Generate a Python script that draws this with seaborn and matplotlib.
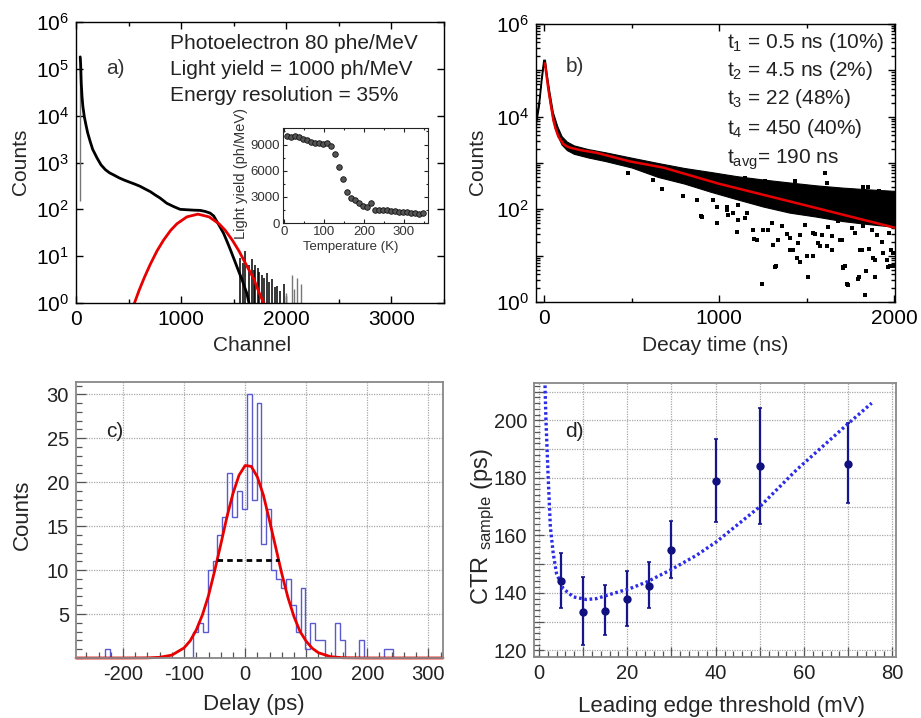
import numpy as np
import matplotlib
matplotlib.use("Agg")
import matplotlib.pyplot as plt
import matplotlib.ticker as mticker
import seaborn as sns

# ---------------- a) pulse height spectrum ----------------
spike_ch = 38
spike_lo, spike_hi = 150, 180000
spec_ch = [40, 44, 50, 57, 65, 79, 95, 111, 135, 159, 200, 238, 280, 320, 360, 410, 460,
           510, 560, 610, 660, 705, 750, 800, 863, 927, 990, 1054, 1120, 1181, 1230, 1276,
           1310, 1340, 1370, 1403, 1435, 1467, 1500, 1530, 1555, 1578, 1600, 1625, 1645]
spec_counts = [180000, 130000, 49000, 26000, 16000, 9500, 6300, 4300, 2800, 1900, 1250, 890,
               700, 600, 540, 470, 420, 380, 345, 310, 270, 240, 205, 174, 135, 115, 100, 98,
               96, 95, 90, 83, 72, 55, 42, 31, 21, 14, 9, 6, 4.3, 3.2, 2.3, 1.6, 1.0]
tail_ch = [1560, 1585, 1610, 1641, 1673, 1690, 1705, 1727, 1745, 1768, 1790, 1816, 1840,
           1864, 1890, 1911, 1940, 1975, 2000, 2054, 2075, 2100, 2140]
tail_counts = [9, 7, 12.6, 6.6, 8.5, 5, 6.6, 5.6, 4.5, 4.0, 3.5, 4.4, 2.8,
               3.2, 2.2, 2.3, 1.8, 2.5, 1.6, 4.0, 2.0, 3.4, 2.5]
fit_a_ch = [556, 600, 650, 705, 770, 832, 900, 959, 1054, 1160, 1266, 1361, 1420, 1487,
            1550, 1615, 1690, 1740, 1784]
fit_a_counts = [1.0, 1.86, 3.5, 6.6, 12.9, 21.9, 35.5, 49, 69, 79, 69, 49, 35.5, 21.9,
                12.9, 6.8, 3.3, 1.7, 1.0]

temp_k = [8, 18, 28, 38, 48, 58, 68, 78, 88, 98, 108, 118, 128, 138, 148, 158, 168, 178,
          188, 198, 208, 218, 228, 238, 248, 258, 268, 278, 288, 298, 308, 318, 328, 338, 348]
light_yield = [9960, 9900, 9960, 9880, 9650, 9500, 9300, 9230, 9230, 9070, 9150, 8800, 7920,
               6370, 5020, 3510, 2900, 2590, 2350, 1970, 1810, 2350, 1540, 1470, 1470, 1470,
               1430, 1390, 1270, 1270, 1240, 1200, 1200, 1040, 1100]

# ---------------- b) decay curve ----------------
band_t = [-46, -30, -15, -5, 5, 15, 30, 50, 75, 100, 130, 170, 250, 350, 500, 650, 800,
          950, 1100, 1250, 1400, 1550, 1700, 1850, 2003]
band_hi = [10000, 24000, 85000, 170000, 170000, 85000, 35500, 12600, 6300, 3800, 2900, 2400,
           2000, 1700, 1300, 1000, 780, 640, 520, 440, 380, 330, 295, 270, 250]
band_lo = [7100, 16600, 59000, 120000, 120000, 59000, 22400, 8300, 4000, 2500, 1900, 1580,
           1320, 1100, 800, 500, 360, 240, 165, 115, 85, 70, 56, 48, 42]
scatter_t = [894, 1201, 1243, 1309, 1323, 1252, 1147, 1043, 1452, 1500, 1505, 1534, 1564,
             1614, 1642, 1680, 1718, 1728, 1795, 1833, 1838, 1880, 1899, 1937, 1956, 1975,
             1994, 1857, 1775, 1823, 1461, 1404, 1357, 1300, 1195, 1157, 1081, 967, 872, 795,
             1614, 1823, 1909, 1747, 1595, 1671, 1918, 1966, 1699, 1994, 1404, 1576, 1804,
             1890, 1709, 1442, 1100, 986,
             1052, 1109, 1109, 1214, 1251, 1318, 1422, 1460, 1536, 1489, 1584, 1622, 1641,
             1708, 1736, 1793, 1812, 1888, 1926, 1964, 1869, 1983, 1755, 1689, 1546, 1385,
             1337, 1280, 1603, 1260, 1850, 1907, 1432, 1147, 481, 671, 871, 900, 985, 1042,
             624]
scatter_counts = [72, 23, 2.4, 17, 5.9, 36, 65, 115, 19, 10, 3.4, 31, 19,
                  16, 26, 55, 5.9, 2.5, 3.4, 1.4, 4.6, 8.9, 28, 11.5, 8.1, 5.9,
                  11.5, 14, 31, 43, 28, 24, 43, 50, 36, 83, 83, 162, 162, 190,
                  370, 310, 245, 224, 83, 98, 83, 31, 22, 5.9, 13.5, 16, 13.5,
                  3.5, 5.8, 8.9, 33, 50,
                  76, 59, 123, 22, 35, 5.6, 13, 7.4, 9.6, 46, 28, 42, 13,
                  5.4, 2.3, 3.2, 13, 8.1, 20, 5.8, 35, 13, 39, 22, 30, 30,
                  22, 35, 600, 400, 310, 240, 400, 470, 600, 280, 158, 69, 115, 98,
                  427]
fit_b_t = [5, 25, 53, 65, 82, 110, 130, 150, 206, 300, 491, 681, 1000, 1500, 2003]
fit_b_counts = [141000, 38000, 8500, 5600, 3700, 2570, 2290, 2140, 1900, 1660, 1080, 795,
                355, 120, 40]

# ---------------- c) delay histogram ----------------
hist_start = -229.3
hist_width = 8.0
hist_counts = [1] + [0] * 17 + [3, 4, 3, 10, 11, 14, 16, 21, 16, 19, 17,
                                30, 18, 29, 13, 17, 10, 9, 8, 9, 6, 3, 8, 1, 4, 2, 2, 0, 0,
                                4, 2, 0, 0, 0, 2, 0, 0, 0, 0, 1, 1]
fit_c_delay = [-277, -200, -160, -140, -120, -100, -90, -80, -70, -60, -50, -40, -30, -20,
               -10, 0, 10, 20, 30, 40, 50, 60, 70, 80, 90, 100, 110, 120, 140, 160, 200, 324]
fit_c_counts = [0, 0, 0.015, 0.08, 0.33, 1.15, 1.96, 3.2, 4.9, 7.1, 9.9, 12.9, 16.0, 18.7,
                20.8, 21.9, 21.8, 20.6, 18.5, 15.6, 12.6, 9.6, 6.9, 4.7, 3.0, 1.9, 1.1, 0.6,
                0.15, 0.03, 0, 0]
fwhm_delay = [-46, 55]
fwhm_level = [11.2, 11.2]

# ---------------- d) CTR vs threshold ----------------
thr_mv = [5, 10, 15, 20, 25, 30, 40, 50, 70]
ctr_ps = [144.2, 133.4, 133.7, 137.8, 142.3, 154.8, 178.8, 184.0, 185.0]
ctr_lo = [134.9, 122.0, 125.2, 128.4, 134.7, 145.1, 164.5, 164.0, 171.2]
ctr_hi = [154.0, 145.6, 142.6, 147.7, 150.7, 165.0, 193.5, 204.3, 199.0]
fit_d_mv = [1.36, 1.6, 2.1, 2.6, 3.25, 4.0, 5.5, 7.8, 10.8, 13, 16.8, 20.6, 24.4, 29.7,
            35.7, 40.2, 50, 58.3, 69.7, 75.3]
fit_d_ps = [214, 200.2, 180.5, 163, 153.7, 146.7, 141.5, 138.6, 137.7, 138, 139.8, 141.5,
            143.8, 147.9, 153.1, 157.8, 170, 182.8, 198.5, 206]

sns.set_style("ticks")
plt.rcParams['font.family'] = ['Liberation Sans', 'DejaVu Sans']
plt.rcParams['mathtext.fontset'] = 'custom'
plt.rcParams['mathtext.rm'] = 'Liberation Sans'
plt.rcParams['mathtext.it'] = 'Liberation Sans'
plt.rcParams['mathtext.bf'] = 'Liberation Sans:bold'
plt.rcParams['axes.unicode_minus'] = False

W, H = 921, 718


def box(l, t, r, b):
    return [l / W, 1 - b / H, (r - l) / W, (b - t) / H]


def put(x, y, s, **kw):
    fig.text(x / W, 1 - y / H, s, va='baseline', ha='left', **kw)


fig = plt.figure(figsize=(W / 100, H / 100), dpi=100)

# ---- panel a ----
ax_a = fig.add_axes(box(76, 22, 444, 303))
ax_a.set_yscale('log')
ax_a.vlines(spike_ch, spike_lo, spike_hi, color='#777777', lw=1)
sns.lineplot(x=spec_ch, y=spec_counts, ax=ax_a, color='black', lw=2,
             estimator=None, sort=False)
tc = np.array(tail_ch)
tv = np.array(tail_counts)
ax_a.vlines(tc[tc < 2000], 1, tv[tc < 2000], color='black', lw=1.1)
ax_a.vlines(tc[tc >= 2000], 1, tv[tc >= 2000], color='#777777', lw=1)
sns.lineplot(x=fit_a_ch, y=fit_a_counts, ax=ax_a, color='#e80000', lw=2)
ax_a.set_xlim(0, 3500)
ax_a.set_ylim(1, 1e6)
ax_a.xaxis.set_major_locator(mticker.MultipleLocator(1000))
ax_a.xaxis.set_minor_locator(mticker.MultipleLocator(500))
ax_a.yaxis.set_major_locator(mticker.LogLocator(base=10, numticks=10))
ax_a.yaxis.set_minor_locator(mticker.NullLocator())
ax_a.set_xlabel('Channel', fontsize=15, va='center')
ax_a.set_ylabel('Counts', fontsize=15, va='center')
ax_a.xaxis.set_label_coords(0.478, -0.15)
ax_a.yaxis.set_label_coords(-0.152, 0.502)

put(170, 49, 'Photoelectron 80 phe/MeV', fontsize=15, color='#222222')
put(170, 75, 'Light yield = 1000 ph/MeV', fontsize=15, color='#222222')
put(170, 101, 'Energy resolution = 35%', fontsize=15, color='#222222')
put(106, 74, 'a)', fontsize=15, color='#333333')

# inset
ax_i = fig.add_axes(box(283, 128, 428, 223))
sns.scatterplot(x=temp_k, y=light_yield, ax=ax_i, color='#555555', edgecolor='#111111',
                s=16, linewidth=0.6)
ax_i.set_xlim(-2, 360)
ax_i.set_ylim(0, 10900)
ax_i.xaxis.set_major_locator(mticker.MultipleLocator(100))
ax_i.xaxis.set_minor_locator(mticker.MultipleLocator(50))
ax_i.yaxis.set_major_locator(mticker.MultipleLocator(3000))
ax_i.yaxis.set_minor_locator(mticker.MultipleLocator(1500))
ax_i.tick_params(which='both', direction='in', top=True, right=True, labelsize=9.5,
                 pad=2, color='#222222', labelcolor='#333333', width=0.8)
ax_i.tick_params(which='major', length=3)
ax_i.tick_params(which='minor', length=1.5)
ax_i.set_xlabel('Temperature (K)', fontsize=9.5, va='center', color='#333333')
ax_i.set_ylabel('Light yield (ph/MeV)', fontsize=10.5, va='center', color='#333333')
ax_i.xaxis.set_label_coords(0.469, -0.253)
ax_i.yaxis.set_label_coords(-0.29, 0.516)
for s in ax_i.spines.values():
    s.set_color('#222222')
    s.set_linewidth(0.8)

# ---- panel b ----
ax_b = fig.add_axes(box(536, 24, 895, 302))
ax_b.set_yscale('log')
ax_b.fill_between(band_t, band_lo, band_hi, color='black', lw=0.8)
sns.scatterplot(x=scatter_t, y=scatter_counts, ax=ax_b, color='black', marker='s',
                s=8, linewidth=0)
sns.lineplot(x=fit_b_t, y=fit_b_counts, ax=ax_b, color='#e80000', lw=1.8)
ax_b.set_xlim(-46, 2003)
ax_b.set_ylim(1, 1e6)
ax_b.xaxis.set_major_locator(mticker.MultipleLocator(1000))
ax_b.xaxis.set_minor_locator(mticker.MultipleLocator(500))
ax_b.yaxis.set_major_locator(mticker.LogLocator(base=10, numticks=10))
ax_b.yaxis.set_minor_locator(mticker.LogLocator(base=10, subs=np.arange(2, 10), numticks=20))
ax_b.yaxis.set_minor_formatter(mticker.NullFormatter())
ax_b.yaxis.set_major_formatter(mticker.FuncFormatter(
    lambda v, _: '$10^{%d}$' % round(np.log10(v)) if round(np.log10(v)) % 2 == 0 else ''))
ax_b.set_xlabel('Decay time (ns)', fontsize=15, va='center')
ax_b.set_ylabel('Counts', fontsize=15, va='center')
ax_b.xaxis.set_label_coords(0.499, -0.155)
ax_b.yaxis.set_label_coords(-0.162, 0.504)

put(727, 48, 't$_1$ = 0.5 ns (10%)', fontsize=15, color='#222222')
put(727, 76, 't$_2$ = 4.5 ns (2%)', fontsize=15, color='#222222')
put(727, 104, 't$_3$ = 22 (48%)', fontsize=15, color='#222222')
put(727, 134, 't$_4$ = 450 (40%)', fontsize=15, color='#222222')
put(727, 164, 't$_{avg}$= 190 ns', fontsize=15, color='#222222')
put(566, 72, 'b)', fontsize=15, color='#333333')

for ax in (ax_a, ax_b):
    ax.tick_params(which='both', direction='in', top=True, right=True, labelsize=15,
                   color='black', labelcolor='black', width=1)
    ax.tick_params(which='major', length=5, pad=5)
    ax.tick_params(which='minor', length=3)
    for s in ax.spines.values():
        s.set_color('black')
        s.set_linewidth(1)

# ---- panel c ----
ax_c = fig.add_axes(box(76, 382, 443, 658))
edges = hist_start + hist_width * np.arange(len(hist_counts) + 1)
ax_c.stairs(hist_counts, edges, color='#5a5ad0', linewidth=1)
sns.lineplot(x=fit_c_delay, y=fit_c_counts, ax=ax_c, color='#e80000', lw=2, clip_on=False)
sns.lineplot(x=fwhm_delay, y=fwhm_level, ax=ax_c, color='black', lw=2,
             linestyle=(0, (2, 1.5)))
ax_c.set_xlim(-277, 324)
ax_c.set_ylim(0, 31.4)
ax_c.xaxis.set_major_locator(mticker.MultipleLocator(100))
ax_c.xaxis.set_minor_locator(mticker.MultipleLocator(20))
ax_c.set_yticks([5, 10, 15, 20, 25, 30])
ax_c.yaxis.set_minor_locator(mticker.MultipleLocator(1))
ax_c.set_xlabel('Delay (ps)', fontsize=16, va='center')
ax_c.set_ylabel('Counts', fontsize=16, va='center')
ax_c.xaxis.set_label_coords(0.485, -0.17)
ax_c.yaxis.set_label_coords(-0.147, 0.52)
put(106, 437, 'c)', fontsize=15, color='#222222')

# ---- panel d ----
ax_d = fig.add_axes(box(534, 383, 896, 657))
yerr = [np.array(ctr_ps) - np.array(ctr_lo), np.array(ctr_hi) - np.array(ctr_ps)]
ax_d.errorbar(thr_mv, ctr_ps, yerr=yerr, fmt='none', ecolor='#16168a', elinewidth=1.6,
              capsize=1.5, capthick=1.2)
sns.scatterplot(x=thr_mv, y=ctr_ps, ax=ax_d, color='#101080', s=36, linewidth=0, zorder=3)
sns.lineplot(x=fit_d_mv, y=fit_d_ps, ax=ax_d, color='#2c2ce8', lw=2.4,
             linestyle=(0, (0.8, 0.8)))
ax_d.set_xlim(-1.1, 80.8)
ax_d.set_ylim(117.7, 213)
ax_d.xaxis.set_major_locator(mticker.MultipleLocator(10))
ax_d.xaxis.set_minor_locator(mticker.MultipleLocator(2))
ax_d.yaxis.set_major_locator(mticker.MultipleLocator(10))
ax_d.yaxis.set_minor_locator(mticker.MultipleLocator(2))
ax_d.xaxis.set_major_formatter(mticker.FuncFormatter(
    lambda v, _: '%d' % v if round(v) % 20 == 0 else ''))
ax_d.yaxis.set_major_formatter(mticker.FuncFormatter(
    lambda v, _: '%d' % v if round(v) % 20 == 0 else ''))
ax_d.set_xlabel('Leading edge threshold (mV)', fontsize=16, va='center')
ax_d.set_ylabel('CTR $_{sample}$ (ps)', fontsize=17, va='center')
ax_d.xaxis.set_label_coords(0.517, -0.179)
ax_d.yaxis.set_label_coords(-0.141, 0.478)
put(565, 437, 'd)', fontsize=15, color='#222222')

for ax in (ax_c, ax_d):
    ax.grid(True, which='major', color='#a8a8a8', linestyle=(0, (1, 1)), lw=0.9)
    ax.tick_params(which='both', direction='in', labelsize=14.5, color='#555555',
                   labelcolor='#222222', width=0.9)
    ax.tick_params(which='major', length=7, pad=5)
    ax.tick_params(which='minor', length=4)
    for s in ax.spines.values():
        s.set_color('#888888')
        s.set_linewidth(1.3)

fig.savefig('out.png', dpi=100)
